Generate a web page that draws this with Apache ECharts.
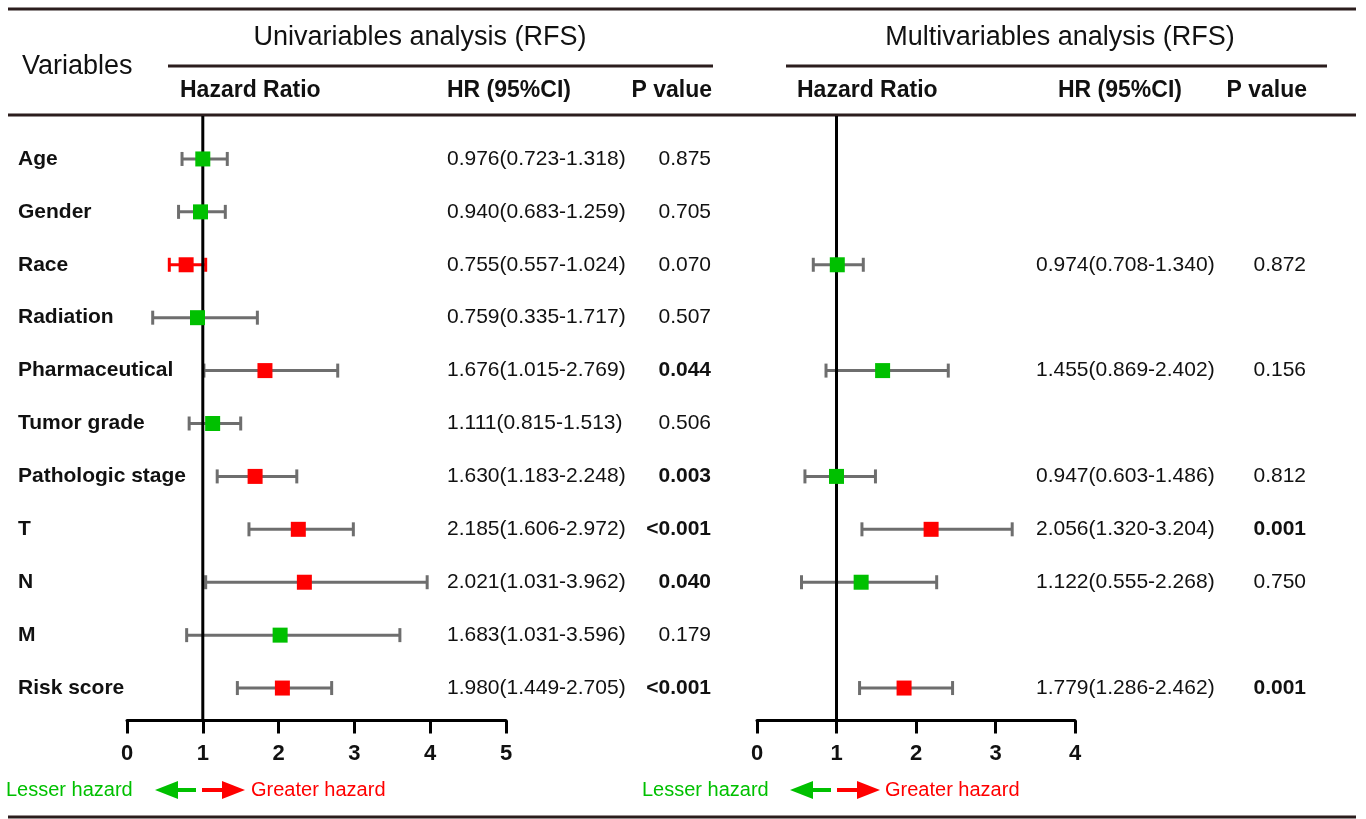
<!DOCTYPE html>
<html>
<head>
<meta charset="utf-8">
<script src="https://cdn.jsdelivr.net/npm/echarts@6/dist/echarts.min.js"></script>
<style>
html,body{margin:0;padding:0;background:#fff;}
#chart{width:1366px;height:819px;}
</style>
</head>
<body>
<div id="chart"></div>
<script>
// ---------------- data ----------------
const variables = ['Age','Gender','Race','Radiation','Pharmaceutical','Tumor grade','Pathologic stage','T','N','M','Risk score'];

// Univariable analysis: drawn point estimate and CI
const uniHR   = [1.00, 0.97, 0.78, 0.93, 1.82, 1.13, 1.69, 2.26, 2.34, 2.02, 2.05];
const uniLow  = [0.726, 0.68, 0.558, 0.339, 1.015, 0.82, 1.19, 1.609, 1.038, 0.787, 1.456];
const uniHigh = [1.323, 1.297, 1.038, 1.72, 2.78, 1.50, 2.24, 2.986, 3.96, 3.60, 2.70];
const uniSig  = [false, false, true, false, true, false, true, true, true, false, true];
const uniHRText = ['0.976(0.723-1.318)','0.940(0.683-1.259)','0.755(0.557-1.024)','0.759(0.335-1.717)','1.676(1.015-2.769)','1.111(0.815-1.513)','1.630(1.183-2.248)','2.185(1.606-2.972)','2.021(1.031-3.962)','1.683(1.031-3.596)','1.980(1.449-2.705)'];
const uniP     = ['0.875','0.705','0.070','0.507','0.044','0.506','0.003','<0.001','0.040','0.179','<0.001'];
const uniPBold = [false,false,false,false,true,false,true,true,true,false,true];

// Multivariable analysis
const multiHR   = [null, null, 1.01, null, 1.58, null, 1.00, 2.19, 1.31, null, 1.85];
const multiLow  = [null, null, 0.708, null, 0.868, null, 0.603, 1.320, 0.56, null, 1.29];
const multiHigh = [null, null, 1.337, null, 2.406, null, 1.49, 3.21, 2.26, null, 2.46];
const multiSig  = [false, false, false, false, false, false, false, true, false, false, true];
const multiHRText = [null,null,'0.974(0.708-1.340)',null,'1.455(0.869-2.402)',null,'0.947(0.603-1.486)','2.056(1.320-3.204)','1.122(0.555-2.268)',null,'1.779(1.286-2.462)'];
const multiP     = [null,null,'0.872',null,'0.156',null,'0.812','0.001','0.750',null,'0.001'];
const multiPBold = [false,false,false,false,false,false,false,true,false,false,true];

const uniTicks = [0,1,2,3,4,5];
const multiTicks = [0,1,2,3,4];

// ---------------- styles ----------------
const FONT = '"Liberation Sans", Arial, Helvetica, sans-serif';
const GREEN = '#00c000';
const RED = '#ff0000';
const GRAY = '#6e6e6e';
const RULE = '#2b1d1d';
const TXT = '#111111';
const redWhiskerRows = ['Race']; // univariable whisker drawn in red

const chart = echarts.init(document.getElementById('chart'), null, {renderer:'canvas'});

function errData(lo, hi, est){
  const out = [];
  for (let i = 0; i < variables.length; i++) {
    if (est[i] == null) continue;
    out.push([i, lo[i], hi[i]]);
  }
  return out;
}
function ptData(est, sig){
  const out = [];
  for (let i = 0; i < variables.length; i++) {
    if (est[i] == null) continue;
    out.push({value:[est[i], i], itemStyle:{color: sig[i] ? RED : GREEN, opacity:1}});
  }
  return out;
}
function errRender(redRows){
  return function(params, api){
    const row = api.value(0);
    const p1 = api.coord([api.value(1), row]);
    const p2 = api.coord([api.value(2), row]);
    const c = (redRows && redRows.indexOf(variables[row]) >= 0) ? RED : GRAY;
    const st = {stroke:c, lineWidth:3};
    return {type:'group', children:[
      {type:'line', shape:{x1:p1[0], y1:p1[1], x2:p2[0], y2:p2[1]}, style:st},
      {type:'line', shape:{x1:p1[0], y1:p1[1]-7, x2:p1[0], y2:p1[1]+7}, style:st},
      {type:'line', shape:{x1:p2[0], y1:p2[1]-7, x2:p2[0], y2:p2[1]+7}, style:st}
    ]};
  };
}
function refRender(params, api){
  const cs = params.coordSys;
  const p = api.coord([api.value(0), 0]);
  return {type:'line', shape:{x1:p[0], y1:cs.y-16.5, x2:p[0], y2:cs.y+cs.height+6}, style:{stroke:'#000', lineWidth:3}};
}
function textRender(hrTexts, pTexts, pBold, hrX, pRight){
  return function(params, api){
    const row = api.value(0);
    const y = api.coord([0, row])[1];
    return {type:'group', children:[
      {type:'text', x:hrX, y:y, style:{text:hrTexts[row], fontFamily:FONT, fontSize:21, fill:TXT, textAlign:'left', textVerticalAlign:'middle'}},
      {type:'text', x:pRight, y:y, style:{text:pTexts[row], fontFamily:FONT, fontSize:21, fontWeight: pBold[row] ? 'bold':'normal', fill:TXT, textAlign:'right', textVerticalAlign:'middle'}}
    ]};
  };
}
function textData(t){
  const out = [];
  for (let i = 0; i < t.length; i++) if (t[i] != null) out.push([i]);
  return out;
}

function xAxisCfg(gi, ticks){
  return {
    gridIndex:gi, type:'value', min:ticks[0], max:ticks[ticks.length-1], interval:1, offset:6,
    axisLine:{show:true, lineStyle:{color:'#000', width:3}},
    axisTick:{show:true, length:13, lineStyle:{color:'#000', width:3}},
    axisLabel:{fontFamily:FONT, fontSize:22, fontWeight:'bold', color:TXT, margin:22},
    splitLine:{show:false}
  };
}

const hdr = (text, x, y, size, bold, align) => ({
  type:'text', x:x, y:y, silent:true,
  style:{text:text, fontFamily:FONT, fontSize:size, fontWeight: bold?'bold':'normal', fill:TXT, textAlign:align||'left', textVerticalAlign:'middle'}
});
const rule = (x1, y, x2) => ({type:'line', silent:true, shape:{x1:x1, y1:y, x2:x2, y2:y}, style:{stroke:RULE, lineWidth:3}});
function arrows(mid){
  return [
    {type:'rect', silent:true, shape:{x:mid-24, y:788, width:21, height:4}, style:{fill:GREEN}},
    {type:'polygon', silent:true, shape:{points:[[mid-44,790],[mid-21,781],[mid-21,799]]}, style:{fill:GREEN}},
    {type:'rect', silent:true, shape:{x:mid+3, y:788, width:21, height:4}, style:{fill:RED}},
    {type:'polygon', silent:true, shape:{points:[[mid+46,790],[mid+23,781],[mid+23,799]]}, style:{fill:RED}}
  ];
}
const legText = (text, x, color) => ({type:'text', x:x, y:790, silent:true, style:{text:text, fontFamily:FONT, fontSize:20, fill:color, textAlign:'left', textVerticalAlign:'middle'}});

const option = {
  animation:false,
  backgroundColor:'#ffffff',
  grid:[
    {left:127, width:379, top:132.5, height:582},
    {left:757, width:318, top:132.5, height:582}
  ],
  xAxis:[xAxisCfg(0, uniTicks), xAxisCfg(1, multiTicks)],
  yAxis:[
    {gridIndex:0, type:'category', data:variables, inverse:true,
     axisLine:{show:false}, axisTick:{show:false}, splitLine:{show:false},
     axisLabel:{align:'left', margin:109, fontFamily:FONT, fontSize:21, fontWeight:'bold', color:TXT}},
    {gridIndex:1, type:'category', data:variables, inverse:true, show:false}
  ],
  series:[
    {type:'custom', xAxisIndex:0, yAxisIndex:0, z:2, clip:false, renderItem:errRender(redWhiskerRows), data:errData(uniLow, uniHigh, uniHR)},
    {type:'custom', xAxisIndex:1, yAxisIndex:1, z:2, clip:false, renderItem:errRender(null), data:errData(multiLow, multiHigh, multiHR)},
    {type:'custom', xAxisIndex:0, yAxisIndex:0, z:3, clip:false, renderItem:refRender, data:[[1]]},
    {type:'custom', xAxisIndex:1, yAxisIndex:1, z:3, clip:false, renderItem:refRender, data:[[1]]},
    {type:'scatter', xAxisIndex:0, yAxisIndex:0, z:4, symbol:'rect', symbolSize:15, itemStyle:{opacity:1}, data:ptData(uniHR, uniSig)},
    {type:'scatter', xAxisIndex:1, yAxisIndex:1, z:4, symbol:'rect', symbolSize:15, itemStyle:{opacity:1}, data:ptData(multiHR, multiSig)},
    {type:'custom', xAxisIndex:0, yAxisIndex:0, z:5, clip:false, renderItem:textRender(uniHRText, uniP, uniPBold, 447, 711), data:textData(uniHRText)},
    {type:'custom', xAxisIndex:1, yAxisIndex:1, z:5, clip:false, renderItem:textRender(multiHRText, multiP, multiPBold, 1036, 1306), data:textData(multiHRText)}
  ],
  graphic:[
    rule(8, 9, 1356),
    rule(168, 66, 713),
    rule(786, 66, 1327),
    rule(8, 115, 1356),
    rule(8, 817, 1356),
    hdr('Univariables analysis (RFS)', 420, 38, 27, false, 'center'),
    hdr('Multivariables analysis (RFS)', 1060, 38, 27, false, 'center'),
    hdr('Variables', 22, 67, 27, false, 'left'),
    hdr('Hazard Ratio', 180, 91, 23, true, 'left'),
    hdr('HR (95%CI)', 447, 91, 23, true, 'left'),
    hdr('P value', 712, 91, 23, true, 'right'),
    hdr('Hazard Ratio', 797, 91, 23, true, 'left'),
    hdr('HR (95%CI)', 1058, 91, 23, true, 'left'),
    hdr('P value', 1307, 91, 23, true, 'right'),
    legText('Lesser hazard', 6, GREEN),
    legText('Greater hazard', 251, RED),
    legText('Lesser hazard', 642, GREEN)
  ].concat(arrows(199)).concat(arrows(834)).concat([
    legText('Greater hazard', 885, RED)
  ])
};
chart.setOption(option);
</script>
</body>
</html>
